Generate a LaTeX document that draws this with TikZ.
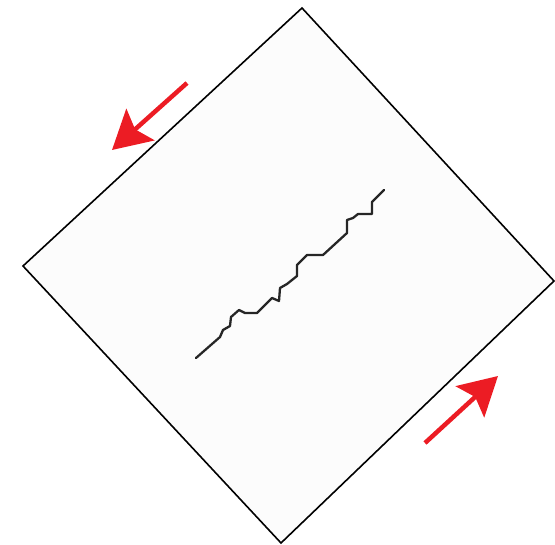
\documentclass[tikz,border=0pt]{standalone}
\usetikzlibrary{arrows.meta}
\definecolor{plate}{RGB}{252,252,252}
\definecolor{shear}{RGB}{236,28,36}
\tikzset{
  platebox/.style={draw=black, line width=1.6pt, fill=plate, line join=miter},
  crackline/.style={draw=black!85, line width=2.3pt, line join=round, line cap=round},
  sheararrow/.style={draw=shear, line width=4.5pt, -{Stealth[length=38pt,width=42pt,inset=7pt]}}
}
\begin{document}
\begin{tikzpicture}[x=1pt,y=-1pt]
\useasboundingbox (0,0) rectangle (555,545);
\coordinate (T) at (302,8);
\coordinate (R) at (554,281);
\coordinate (B) at (281,543);
\coordinate (L) at (23,266);
\draw[platebox] (T) -- (R) -- (B) -- (L) -- cycle;
\coordinate (a1s) at (187,83);
\coordinate (a1e) at (112,150);
\coordinate (a2s) at (425,443);
\coordinate (a2e) at (498,376);
\draw[sheararrow] (a1s) -- (a1e);
\draw[sheararrow] (a2s) -- (a2e);
\coordinate (c0) at (196,358);
\coordinate (c1) at (384,190);
\draw[crackline] (c0) -- (220,337) -- (223,330) -- (230,326) -- (231,317) -- (239,310)
  -- (245,313) -- (257,313) -- (272,298) -- (279,301) -- (280,288) -- (287,284)
  -- (297,276) -- (297,265) -- (307,255) -- (323,255) -- (347,233) -- (347,220)
  -- (353,218) -- (358,214) -- (372,214) -- (372,202) -- (c1);
\end{tikzpicture}
\end{document}
